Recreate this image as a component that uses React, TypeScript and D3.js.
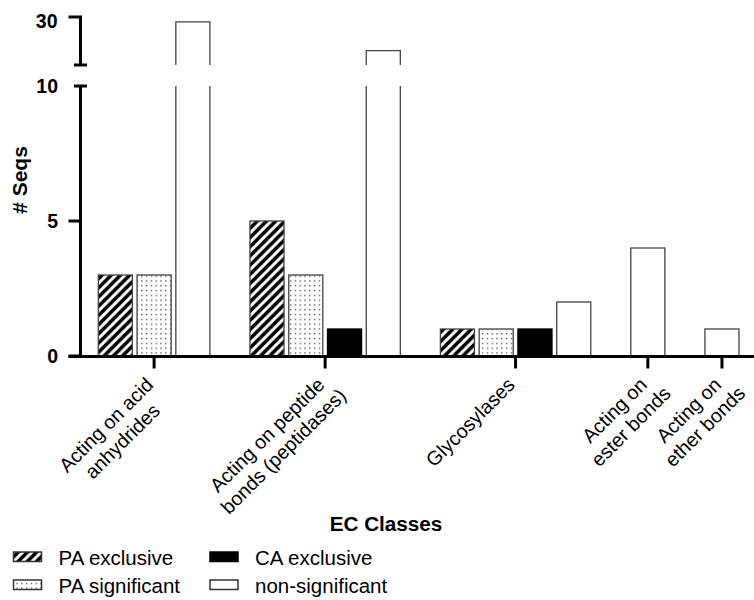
import React, { useEffect, useRef } from "react";
import * as d3 from "d3";

const categories = [
  "Acting on acid\nanhydrides",
  "Acting on peptide\nbonds (peptidases)",
  "Glycosylases",
  "Acting on\nester bonds",
  "Acting on\nether bonds",
];
const seriesNames = ["PA exclusive", "PA significant", "CA exclusive", "non-significant"];
const paExclusive = [3, 5, 1, 0, 0];
const paSignificant = [3, 3, 1, 0, 0];
const caExclusive = [0, 1, 1, 0, 0];
const nonSignificant = [29, 23, 2, 4, 1];
const lowTicks = [0, 5, 10];
const highTicks = [30];

const W = 754;
const H = 600;
const FONT = "'Liberation Sans', Arial, Helvetica, sans-serif";

export default function App() {
  const ref = useRef<SVGSVGElement | null>(null);

  useEffect(() => {
    const svg = d3.select(ref.current);
    svg.selectAll("*").remove();

    const series = [paExclusive, paSignificant, caExclusive, nonSignificant];
    const fills = ["url(#hatch)", "url(#dots)", "#000", "#fff"];

    const defs = svg.append("defs");
    const hp = 9.2;
    const hatch = defs
      .append("pattern")
      .attr("id", "hatch")
      .attr("patternUnits", "userSpaceOnUse")
      .attr("width", hp)
      .attr("height", hp);
    hatch.append("rect").attr("width", hp).attr("height", hp).attr("fill", "#fff");
    hatch
      .append("path")
      .attr("d", `M-1,${hp + 1} L${hp + 1},-1 M-2,2 L2,-2 M${hp - 2},${hp + 2} L${hp + 2},${hp - 2}`)
      .attr("stroke", "#000")
      .attr("stroke-width", 3.5);

    const dp = 4.8;
    const dots = defs
      .append("pattern")
      .attr("id", "dots")
      .attr("patternUnits", "userSpaceOnUse")
      .attr("width", dp)
      .attr("height", dp);
    dots.append("rect").attr("width", dp).attr("height", dp).attr("fill", "#fff");
    dots.append("rect").attr("x", 2).attr("y", 2).attr("width", 1.2).attr("height", 1.2).attr("fill", "#222");

    // scales
    const yLow = d3.scaleLinear().domain([0, 10]).range([356, 86]);
    const yHigh = d3.scaleLinear().domain([20, 30]).range([65, 17]);

    const BW = 0.8786;
    const GAP = 0.912;
    const groups: { start: number; bars: number[] }[] = [];
    let start = 0;
    categories.forEach((_, g) => {
      const bars = series.map((s, i) => (s[g] > 0 ? i : -1)).filter((i) => i >= 0);
      groups.push({ start, bars });
      start += bars.length + GAP;
    });
    const last = groups[groups.length - 1];
    const total = last.start + last.bars.length - 1 + BW;
    const x = d3.scaleLinear().domain([0, total]).range([98.3, 739]);
    const bw = x(BW) - x(0);

    const stroke = "#444";
    const sw = 1.3;
    const g = svg.append("g");

    groups.forEach((grp, gi) => {
      grp.bars.forEach((si, k) => {
        const v = series[si][gi];
        const x0 = x(grp.start + k);
        if (v <= 10) {
          g.append("rect")
            .attr("x", x0)
            .attr("y", yLow(v))
            .attr("width", bw)
            .attr("height", yLow(0) - yLow(v))
            .attr("fill", fills[si])
            .attr("stroke", si === 2 ? "#000" : stroke)
            .attr("stroke-width", sw);
        } else {
          g.append("rect")
            .attr("x", x0)
            .attr("y", yLow(10))
            .attr("width", bw)
            .attr("height", yLow(0) - yLow(10))
            .attr("fill", fills[si]);
          g.append("path")
            .attr("d", `M${x0},${yLow(0)} V${yLow(10)} M${x0 + bw},${yLow(10)} V${yLow(0)}`)
            .attr("fill", "none")
            .attr("stroke", stroke)
            .attr("stroke-width", sw);
          g.append("rect")
            .attr("x", x0)
            .attr("y", yHigh(v))
            .attr("width", bw)
            .attr("height", yHigh(20) - yHigh(v))
            .attr("fill", fills[si]);
          g.append("path")
            .attr("d", `M${x0},${yHigh(20)} V${yHigh(v)} H${x0 + bw} V${yHigh(20)}`)
            .attr("fill", "none")
            .attr("stroke", stroke)
            .attr("stroke-width", sw);
        }
      });
    });

    // axes
    const ax = svg.append("g").attr("stroke", "#000").attr("stroke-width", 3).attr("fill", "none");
    const axX = 80.5;
    ax.append("line").attr("x1", axX).attr("x2", axX).attr("y1", yLow(10)).attr("y2", yLow(0) + 1.5);
    ax.append("line").attr("x1", 74).attr("x2", 87).attr("y1", yLow(10)).attr("y2", yLow(10));
    ax.append("line").attr("x1", axX).attr("x2", axX).attr("y1", yHigh(30)).attr("y2", yHigh(20));
    ax.append("line").attr("x1", 74).attr("x2", 87).attr("y1", yHigh(20)).attr("y2", yHigh(20));
    lowTicks
      .filter((t) => t !== 10)
      .forEach((t) => {
        ax.append("line").attr("x1", 68.5).attr("x2", axX).attr("y1", yLow(t)).attr("y2", yLow(t));
      });
    highTicks.forEach((t) => {
      ax.append("line").attr("x1", 68.5).attr("x2", axX + 1.5).attr("y1", yHigh(t)).attr("y2", yHigh(t));
    });
    // x axis
    const baseY = yLow(0) + 0.5;
    ax.append("line").attr("x1", 68.5).attr("x2", W).attr("y1", baseY).attr("y2", baseY);
    const centers = groups.map((grp) => x(grp.start + (grp.bars.length - 1 + BW) / 2));
    centers.forEach((cx) => {
      ax.append("line").attr("x1", cx).attr("x2", cx).attr("y1", baseY).attr("y2", baseY + 12);
    });

    // y tick labels
    const tl = svg
      .append("g")
      .attr("font-family", FONT)
      .attr("font-weight", "bold")
      .attr("font-size", 19.5)
      .attr("text-anchor", "end")
      .attr("fill", "#000");
    lowTicks.forEach((t) => {
      tl.append("text").attr("x", 58).attr("y", yLow(t) + 7).text(String(t));
    });
    highTicks.forEach((t) => {
      tl.append("text").attr("x", 57.5).attr("y", yHigh(t) + 10.5).text(String(t));
    });

    // axis titles
    svg
      .append("text")
      .attr("transform", "translate(27,180) rotate(-90)")
      .attr("text-anchor", "middle")
      .attr("font-family", FONT)
      .attr("font-weight", "bold")
      .attr("font-size", 21)
      .text("# Seqs");
    svg
      .append("text")
      .attr("x", 386)
      .attr("y", 531)
      .attr("text-anchor", "middle")
      .attr("font-family", FONT)
      .attr("font-weight", "bold")
      .attr("font-size", 20.7)
      .text("EC Classes");

    // x tick labels: lines centred on each other, first line ending at the tick
    const lh = 23;
    categories.forEach((cat, gi) => {
      const lines = cat.split("\n");
      const lg = svg
        .append("g")
        .attr("transform", `translate(${centers[gi] + 0.5},386) rotate(-45)`)
        .attr("font-family", FONT)
        .attr("font-size", 19.7)
        .attr("fill", "#000");
      const texts = lines.map((ln, i) =>
        lg.append("text").attr("y", i * lh).attr("text-anchor", "middle").text(ln)
      );
      const w1 = (texts[0].node() as SVGTextElement).getComputedTextLength();
      texts.forEach((t) => t.attr("x", -w1 / 2));
    });

    // legend
    const legend = svg.append("g").attr("font-family", FONT).attr("font-size", 20.5).attr("fill", "#000");
    const lx = [13.5, 210];
    const ly = [552, 580];
    seriesNames.forEach((name, i) => {
      const col = i < 2 ? 0 : 1;
      const row = i % 2;
      legend
        .append("rect")
        .attr("x", lx[col])
        .attr("y", ly[row])
        .attr("width", 28)
        .attr("height", 9.5)
        .attr("fill", fills[i])
        .attr("stroke", i === 2 ? "#000" : "#333")
        .attr("stroke-width", 1.5);
      legend
        .append("text")
        .attr("x", lx[col] + 45)
        .attr("y", ly[row] + 13.2)
        .text(name);
    });
  }, []);

  return (
    <svg
      ref={ref}
      width={W}
      height={H}
      style={{ position: "absolute", left: 0, top: 0, display: "block", background: "#fff" }}
    />
  );
}
